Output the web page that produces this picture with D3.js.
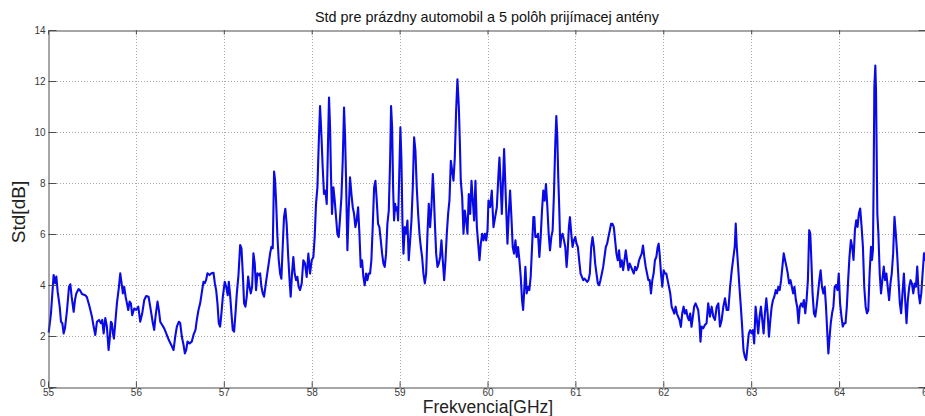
<!DOCTYPE html>
<html>
<head>
<meta charset="utf-8">
<script src="https://cdn.jsdelivr.net/npm/d3@7"></script>
<style>
  html, body { margin: 0; padding: 0; background: #fff; overflow: hidden; }
  svg { display: block; font-family: "Liberation Sans", Arial, sans-serif; }
</style>
</head>
<body>
<svg id="chart" width="925" height="416"></svg>
<script>
// Frequency samples [GHz] and the measured standard deviation [dB]
const freq = [
55.008,55.034,55.064,55.083,55.095,55.110,55.133,55.148,55.163,55.178,55.193,55.216,55.239,55.254,55.269,55.292,55.307,55.322,55.348,55.367,55.386,55.424,55.443,55.473,55.500,55.519,55.538,55.557,55.580,55.602,55.617,55.633,55.652,55.670,55.689,55.701,55.716,55.727,55.739,55.750,55.765,55.784,55.807,55.822,55.837,55.852,55.867,55.883,55.898,55.913,55.928,55.943,55.958,55.981,56.004,56.027,56.049,56.072,56.095,56.117,56.144,56.163,56.193,56.208,56.223,56.246,56.261,56.277,56.299,56.322,56.345,56.375,56.402,56.428,56.447,56.466,56.489,56.504,56.523,56.542,56.557,56.572,56.587,56.610,56.636,56.655,56.678,56.693,56.712,56.731,56.754,56.769,56.784,56.799,56.814,56.837,56.860,56.883,56.898,56.913,56.928,56.943,56.958,56.973,56.989,57.011,57.027,57.045,57.057,57.072,57.087,57.102,57.117,57.133,57.148,57.167,57.186,57.201,57.216,57.231,57.246,57.261,57.277,57.292,57.307,57.322,57.337,57.352,57.367,57.383,57.398,57.413,57.428,57.443,57.458,57.473,57.489,57.511,57.527,57.542,57.557,57.572,57.583,57.595,57.610,57.625,57.640,
57.655,57.670,57.685,57.700,57.715,57.731,57.746,57.761,57.776,57.791,57.806,57.822,57.837,57.852,57.867,57.886,57.905,57.924,57.943,57.962,57.981,58.000,58.019,58.034,58.049,58.065,58.080,58.095,58.110,58.125,58.140,58.156,58.171,58.186,58.197,58.209,58.220,58.231,58.247,58.262,58.277,58.292,58.307,58.323,58.338,58.353,58.368,58.380,58.391,58.406,58.421,58.436,58.452,58.467,58.482,58.497,58.512,58.528,58.543,58.558,58.573,58.588,58.603,58.619,58.634,58.649,58.664,58.679,58.694,58.710,58.725,58.740,58.755,58.770,58.786,58.801,58.816,58.831,58.846,58.861,58.877,58.892,58.903,58.915,58.926,58.937,58.949,58.960,58.972,58.983,58.998,59.009,59.021,59.032,59.044,59.059,59.074,59.089,59.104,59.120,59.135,59.150,59.165,59.180,59.195,59.211,59.226,59.241,59.256,59.271,59.287,59.302,59.317,59.332,59.347,59.362,59.378,59.389,59.400,59.416,59.431,59.446,59.461,59.476,59.491,59.507,59.522,59.537,59.552,59.567,59.583,59.598,59.613,59.628,59.643,59.658,59.674,59.685,59.696,59.712,59.727,59.742,59.757,59.772,59.787,59.803,59.818,59.833,59.848,59.863,59.879,59.894,59.909,59.924,59.939,59.954,59.970,59.985,60.000,
60.011,60.030,60.049,60.068,60.087,60.106,60.125,60.136,60.151,60.163,60.174,60.189,60.200,60.212,60.227,60.242,60.257,60.272,60.287,60.302,60.318,60.333,60.348,60.363,60.378,60.393,60.405,60.416,60.431,60.446,60.461,60.476,60.491,60.507,60.522,60.533,60.544,60.560,60.575,60.590,60.605,60.620,60.635,60.650,60.665,60.681,60.696,60.711,60.726,60.741,60.756,60.771,60.783,60.794,60.805,60.817,60.828,60.839,60.854,60.870,60.885,60.900,60.911,60.926,60.938,60.953,60.968,60.983,60.998,61.013,61.028,61.043,61.059,61.074,61.089,61.104,61.119,61.134,61.149,61.164,61.180,61.195,61.210,61.225,61.240,61.255,61.270,61.285,61.301,61.316,61.331,61.346,61.361,61.376,61.391,61.406,61.422,61.437,61.452,61.467,61.482,61.497,61.512,61.527,61.543,61.558,61.573,61.588,61.603,61.618,61.633,61.648,61.664,61.679,61.694,61.709,61.724,61.739,61.754,61.769,61.784,61.800,61.815,61.830,61.845,61.860,61.875,61.890,61.905,61.921,61.936,61.947,61.958,61.974,61.989,62.004,62.019,62.034,62.049,62.064,62.079,62.095,62.110,62.125,62.140,62.155,62.170,62.185,62.200,62.215,62.231,62.246,62.261,62.276,62.291,62.306,62.321,62.336,62.351,62.367,62.382,62.397,62.412,62.423,
62.435,62.454,62.473,62.492,62.511,62.531,62.550,62.569,62.588,62.607,62.626,62.645,62.664,62.683,62.702,62.721,62.740,62.760,62.779,62.798,62.813,62.824,62.836,62.851,62.866,62.882,62.897,62.912,62.927,62.943,62.958,62.973,62.989,63.004,63.019,63.034,63.050,63.065,63.080,63.095,63.111,63.126,63.141,63.156,63.172,63.187,63.202,63.218,63.233,63.248,63.263,63.279,63.294,63.309,63.324,63.340,63.355,63.370,63.385,63.401,63.416,63.431,63.447,63.462,63.477,63.492,63.508,63.523,63.538,63.553,63.569,63.584,63.599,63.615,63.630,63.645,63.660,63.672,63.683,63.698,63.714,63.729,63.744,63.760,63.775,63.790,63.805,63.821,63.836,63.851,63.866,63.878,63.889,63.905,63.920,63.935,63.950,63.966,63.981,63.996,64.011,64.027,64.042,64.057,64.073,64.088,64.103,64.118,64.134,64.149,64.164,64.180,64.195,64.210,64.225,64.240,64.256,64.271,64.286,64.302,64.317,64.332,64.347,64.363,64.374,64.385,64.393,64.401,64.412,64.420,64.427,64.435,64.447,64.462,64.477,64.492,64.508,64.523,64.538,64.553,64.569,64.584,64.599,64.615,64.630,64.645,64.660,64.676,64.691,64.706,64.721,64.737,64.752,64.767,64.782,64.798,64.813,64.828,64.844,64.859,64.874,64.889,64.905,64.920,64.935,64.950,64.966,64.981,64.992,65.000
];
const stdDb = [
2.13,2.90,4.39,4.07,4.33,3.74,3.15,2.56,2.50,2.10,2.30,3.00,3.93,4.03,3.54,2.95,3.41,3.67,3.84,3.78,3.65,3.60,3.52,3.15,2.76,2.37,2.04,2.56,2.63,2.50,2.63,2.10,2.70,2.37,1.45,1.84,2.56,2.50,2.10,1.90,2.50,3.28,3.93,4.46,4.07,3.67,3.93,3.54,3.28,3.02,3.35,3.28,2.82,3.08,3.02,3.15,2.56,2.89,3.41,3.57,3.54,3.15,2.50,2.24,2.76,3.35,3.02,2.56,2.43,2.30,2.10,1.84,1.65,1.45,1.97,2.37,2.56,2.50,1.97,1.65,1.32,1.45,1.78,1.71,1.78,2.04,2.24,2.63,3.02,3.28,3.80,4.13,4.07,4.20,4.46,4.39,4.46,4.48,4.07,3.80,3.28,2.50,2.37,2.89,3.54,4.13,3.93,3.60,4.13,3.60,2.89,2.24,2.17,2.89,3.67,4.39,5.57,5.44,4.46,3.28,3.15,3.54,4.33,3.93,3.67,3.93,5.24,4.85,3.80,4.46,4.39,4.46,3.93,3.67,3.54,3.93,4.33,4.85,5.24,5.50,5.44,8.45,8.12,7.27,5.90,4.98,4.46,
4.25,5.49,6.66,6.99,6.40,5.23,4.32,3.54,4.45,5.10,4.45,4.19,4.32,3.93,3.80,4.06,4.97,4.84,4.32,5.23,4.45,4.97,5.10,5.88,7.18,7.83,9.53,11.02,9.92,8.61,7.57,7.70,7.18,9.66,11.35,10.18,8.22,6.79,7.83,7.31,6.66,6.01,5.88,6.66,7.44,8.88,10.96,9.79,8.10,5.36,6.92,8.22,7.57,7.05,6.79,6.27,6.53,7.05,6.01,4.71,4.97,4.32,3.99,4.45,4.19,4.45,4.45,4.97,6.27,7.83,8.09,7.31,6.40,6.27,5.75,5.23,4.84,4.71,5.23,6.40,6.92,8.87,11.02,10.18,7.83,6.53,7.18,6.92,7.05,6.53,8.61,10.18,8.88,6.53,5.23,6.27,6.01,6.53,4.97,5.75,6.53,7.83,9.79,9.27,7.83,6.79,6.01,5.49,5.10,4.45,4.06,4.45,6.01,7.18,6.27,7.05,8.35,7.57,6.53,5.23,4.71,4.84,5.10,5.75,4.97,4.19,4.97,6.01,6.79,7.31,8.87,8.48,8.09,9.00,10.83,12.07,10.96,9.66,8.09,7.44,6.01,6.92,6.53,6.01,7.57,6.79,8.09,7.31,6.53,8.09,6.27,5.62,4.97,5.62,6.01,5.75,6.01,5.75,6.14,
7.31,7.05,7.70,6.27,6.66,7.05,8.35,9.00,7.83,6.79,7.83,9.33,8.22,7.05,5.62,6.79,7.70,6.66,5.49,5.23,5.75,5.10,5.49,4.97,4.32,3.41,3.02,3.67,4.71,3.67,3.93,3.80,4.32,5.49,6.66,6.66,5.88,5.88,6.01,5.10,5.88,6.92,7.70,7.31,7.96,7.05,6.01,5.36,5.88,6.14,7.57,9.53,10.63,9.79,8.22,6.92,5.49,5.88,6.01,5.75,5.49,4.71,5.23,6.27,6.66,6.01,5.49,5.75,5.88,5.62,5.49,4.97,4.45,4.32,4.19,4.25,4.19,4.12,4.19,4.45,5.49,5.88,5.49,4.84,4.45,4.06,3.99,4.19,4.45,4.71,5.10,5.49,5.62,5.88,6.14,6.40,6.40,6.27,5.75,5.23,4.97,5.36,4.71,4.97,4.58,4.97,5.36,4.97,4.58,4.84,4.71,4.58,4.45,4.71,4.58,4.71,4.97,5.10,5.23,5.55,5.10,4.71,4.45,4.19,4.19,3.67,4.19,4.45,4.97,5.10,5.49,5.62,5.23,4.45,3.93,4.58,4.45,4.45,4.19,3.93,3.67,3.15,3.02,2.88,3.15,2.88,2.75,2.62,2.36,2.88,3.15,2.88,3.02,2.75,2.62,2.88,2.36,2.75,3.15,3.28,3.15,3.02,2.49,1.78,
2.37,2.30,2.43,2.50,3.28,2.76,3.15,2.76,2.63,3.15,3.28,2.37,2.63,3.15,3.48,3.02,3.02,3.93,4.58,5.10,5.50,6.41,5.50,4.72,3.93,3.15,2.37,1.45,1.19,1.06,1.58,2.10,2.23,2.10,2.23,1.71,3.15,2.63,2.10,2.76,3.15,2.63,2.10,2.89,3.48,2.89,1.97,2.63,3.15,3.41,3.54,3.80,3.67,3.93,3.80,4.19,4.72,5.24,4.98,4.72,4.45,4.06,4.19,3.93,3.67,3.93,3.41,3.15,2.50,3.15,3.28,3.15,3.41,2.89,3.41,4.19,6.15,6.02,5.10,3.67,2.89,2.76,3.15,3.67,4.19,4.58,3.93,3.67,3.93,3.15,2.10,1.32,1.84,2.50,2.89,3.15,3.93,4.00,3.80,4.45,3.28,2.76,2.37,2.50,2.50,3.15,4.19,5.10,5.76,5.50,4.98,6.15,6.54,6.28,6.80,7.00,6.28,5.50,3.93,3.15,2.89,3.02,4.45,5.50,4.98,5.37,8.10,11.77,12.61,11.63,9.28,6.80,6.02,4.45,3.67,4.19,4.72,4.19,4.45,3.93,3.41,4.06,4.45,5.24,6.67,6.02,5.24,4.19,3.28,2.89,3.67,4.45,3.41,2.50,3.41,3.93,4.19,4.06,3.67,4.06,3.93,4.72,3.67,3.28,3.67,4.45,5.24,4.98,5.50,5.40
];

// Axis settings
const xTicks = [55, 56, 57, 58, 59, 60, 61, 62, 63, 64, 65];
const yTicks = [0, 2, 4, 6, 8, 10, 12, 14];
const chartTitle = "Std pre prázdny automobil a 5 polôh prijímacej antény";
const xLabel = "Frekvencia[GHz]";
const yLabel = "Std[dB]";

const svg = d3.select("#chart");
const plotL = 48, plotR = 927, plotT = 30, plotB = 387;

const x = d3.scaleLinear().domain([55, 65]).range([plotL, plotR]);
const y = d3.scaleLinear().domain([0, 14]).range([plotB, plotT]);

const axisColor = "#4d4d4d";
const gridColor = "#a8a8a8";

// dotted grid
const grid = svg.append("g");
grid.selectAll("line.gx").data(xTicks.slice(1, -1)).join("line")
  .attr("x1", d => Math.round(x(d)) + 0.5).attr("x2", d => Math.round(x(d)) + 0.5)
  .attr("y1", plotT).attr("y2", plotB)
  .attr("stroke", gridColor).attr("stroke-width", 1)
  .attr("stroke-dasharray", "1,2");
grid.selectAll("line.gy").data(yTicks.slice(1, -1)).join("line")
  .attr("x1", plotL).attr("x2", plotR)
  .attr("y1", d => Math.round(y(d)) + 0.5).attr("y2", d => Math.round(y(d)) + 0.5)
  .attr("stroke", gridColor).attr("stroke-width", 1)
  .attr("stroke-dasharray", "1,2");

// data line
const n = Math.min(freq.length, stdDb.length);
const pts = d3.range(n).map(i => [freq[i], stdDb[i]]);
const line = d3.line().x(d => x(d[0])).y(d => y(d[1]));
svg.append("path")
  .datum(pts)
  .attr("d", line)
  .attr("fill", "none")
  .attr("stroke", "#0a0ae6")
  .attr("stroke-width", 2.1)
  .attr("stroke-linejoin", "round");

// box with inward ticks
const xAxisB = d3.axisBottom(x).tickValues(xTicks).tickSizeInner(-6).tickSizeOuter(0).tickPadding(1).tickFormat(d3.format("d"));
const xAxisT = d3.axisTop(x).tickValues(xTicks).tickSizeInner(-4).tickSizeOuter(0).tickFormat("");
const yAxisL = d3.axisLeft(y).tickValues(yTicks).tickSizeInner(-8).tickSizeOuter(0).tickPadding(3).tickFormat(d3.format("d"));
const yAxisR = d3.axisRight(y).tickValues(yTicks).tickSizeInner(-9).tickSizeOuter(0).tickFormat("");

function styleAxis(g) {
  g.select(".domain").attr("stroke", axisColor).attr("stroke-width", 1);
  g.selectAll(".tick line").attr("stroke", axisColor).attr("stroke-width", 1);
  g.selectAll(".tick text").attr("fill", "#3a3a3a").style("font-size", "10px")
    .style("font-family", "'Liberation Sans', Arial, sans-serif");
}

svg.append("g").attr("transform", `translate(0,${plotB + 0.5})`).call(xAxisB).call(styleAxis);
svg.append("g").attr("transform", `translate(0,${plotT + 0.5})`).call(xAxisT).call(styleAxis);
const yAxisG = svg.append("g").attr("transform", `translate(${plotL + 0.5},0)`).call(yAxisL).call(styleAxis);
// lift the zero label a little so it sits just above the first x label
yAxisG.selectAll(".tick text").filter(d => d === 0).attr("dy", "-0.05em");

svg.append("g").attr("transform", `translate(${plotR + 0.5},0)`).call(yAxisR).call(styleAxis);

// titles
svg.append("text")
  .attr("x", 487).attr("y", 22)
  .attr("text-anchor", "middle")
  .style("font-size", "14.4px").attr("fill", "#111")
  .text(chartTitle);

svg.append("text")
  .attr("x", 488).attr("y", 412.5)
  .attr("text-anchor", "middle")
  .style("font-size", "17.5px").attr("fill", "#222")
  .text(xLabel);

svg.append("text")
  .attr("transform", "translate(25,212) rotate(-90)")
  .attr("text-anchor", "middle")
  .style("font-size", "19px").attr("fill", "#222")
  .text(yLabel);
</script>
</body>
</html>
